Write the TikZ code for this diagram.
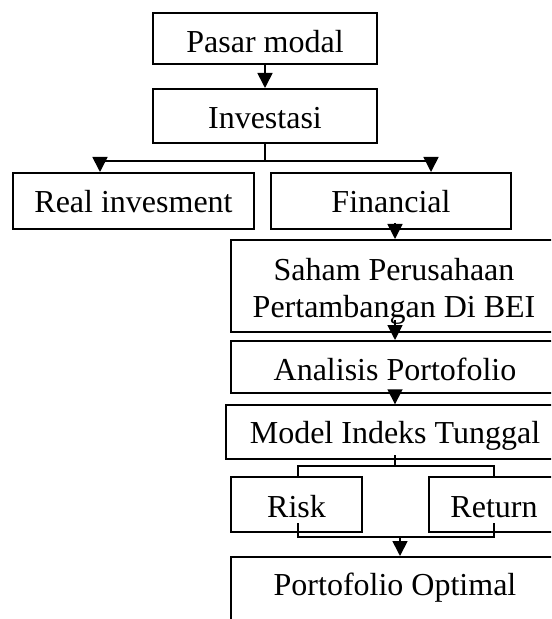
\documentclass[tikz,border=0pt]{standalone}
\usepackage{fontspec}
\setmainfont{Liberation Serif}
\usetikzlibrary{arrows.meta}
\begin{document}
\begin{tikzpicture}[x=0.5pt,y=-0.5pt,
  boxst/.style={draw=black, line width=1pt, rectangle, inner sep=0pt},
  txt/.style={font=\fontsize{16}{18.5}\selectfont, inner sep=0pt},
  conn/.style={line width=0.85pt},
  arr/.style={line width=0.85pt, -{Triangle[length=7.5pt,width=7.5pt]}}]
\useasboundingbox (0,0) rectangle (551,619);
\clip (0,0) rectangle (551,619);
\fill[white] (0,0) rectangle (551,619);
% boxes
\node[boxst, minimum width=112pt, minimum height=25.5pt] (pasar) at (265,38.5) {};
\node[boxst, minimum width=112pt, minimum height=27pt] (inv) at (265,116) {};
\node[boxst, minimum width=120.5pt, minimum height=28pt] (real) at (133.5,201) {};
\node[boxst, minimum width=120pt, minimum height=28pt] (fin) at (391,201) {};
\node[boxst, minimum width=163pt, minimum height=46pt] (saham) at (394,286) {};
\node[boxst, minimum width=164pt, minimum height=26pt] (anal) at (395,367) {};
\node[boxst, line width=0.7pt, minimum width=169pt, minimum height=27pt] (model) at (395,432) {};
\node[boxst, minimum width=65.5pt, minimum height=27.5pt] (risk) at (296.5,504.5) {};
\node[boxst, minimum width=65pt, minimum height=27.5pt] (ret) at (494,504.5) {};
\node[boxst, minimum width=164pt, minimum height=41.5pt] (porto) at (395,598.5) {};
% texts
\node[txt, anchor=base] (tpasar) at (265,53) {Pasar modal};
\node[txt, anchor=base] (tinv) at (265,129) {Investasi};
\node[txt, anchor=base] (treal) at (133.5,212.7) {Real invesment};
\node[txt, anchor=base] (tfin) at (391,212.7) {Financial};
\node[txt, align=center] (tsaham) at (394,291) {Saham Perusahaan\\Pertambangan Di BEI};
\node[txt, anchor=base] (tanal) at (395,380) {Analisis Portofolio};
\node[txt, anchor=base] (tmodel) at (395,443) {Model Indeks Tunggal};
\node[txt, anchor=base] (trisk) at (296.5,517) {Risk};
\node[txt, anchor=base] (tret) at (494,517) {Return};
\node[txt, anchor=base] (tporto) at (395,595) {Portofolio Optimal};
% connectors
\draw[arr] (pasar.south) -- (inv.north);
\coordinate (jl) at (100,161);
\coordinate (jr) at (431,161);
\draw[conn] (inv.south) -- (inv.south |- jl);
\draw[conn] (jl) -- (jr);
\draw[arr] (jl) -- (jl |- real.north);
\draw[arr] (jr) -- (jr |- fin.north);
\coordinate (a1) at (395,223);
\draw[arr] (a1) -- (a1 |- saham.north);
\coordinate (a2) at (395,320);
\draw[arr] (a2) -- (a2 |- anal.north);
\draw[arr] (anal.south) -- (model.north);
\coordinate (s1) at (395,455);
\coordinate (j3) at (395,466);
\coordinate (rl) at (298,477);
\coordinate (rr) at (494,477);
\draw[conn] (s1) -- (j3);
\draw[conn] (rl) |- (j3) -| (rr);
\coordinate (bl) at (298,523);
\coordinate (br) at (494,523);
\coordinate (j4) at (400,537);
\draw[conn] (bl) |- (j4) -| (br);
\draw[arr] (j4) -- (j4 |- porto.north);
\end{tikzpicture}
\end{document}
